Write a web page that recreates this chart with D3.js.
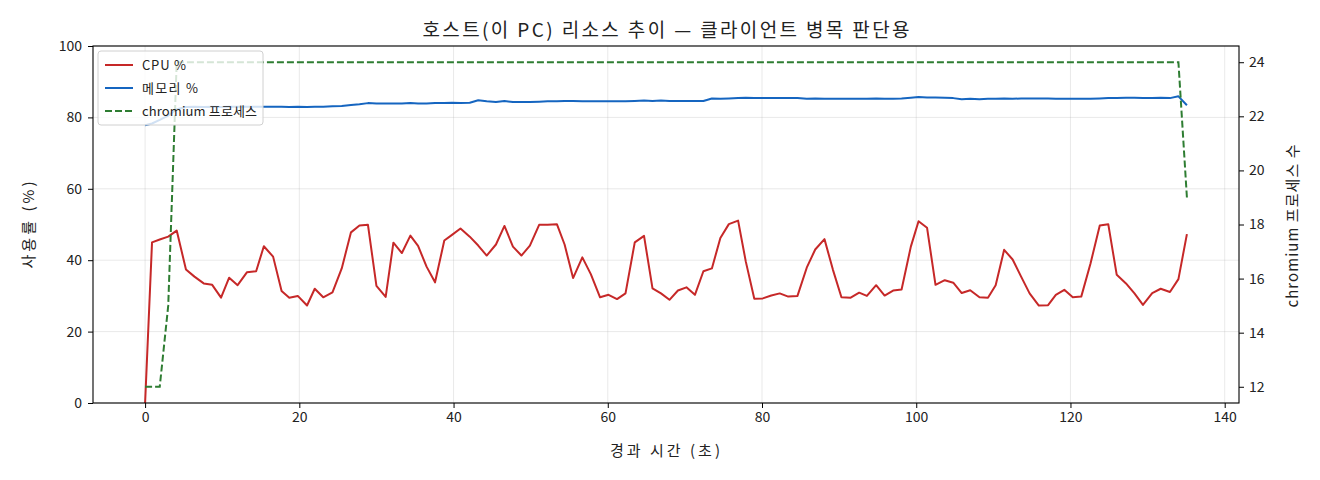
<!DOCTYPE html>
<html><head><meta charset="utf-8">
<script src="https://cdn.jsdelivr.net/npm/d3@7/dist/d3.min.js"></script>
<style>
html,body{margin:0;padding:0;background:#fff;}
svg text{font-family:"Noto Sans CJK KR","Noto Sans",sans-serif;fill:#222;}
</style></head>
<body>
<svg id="c" width="1320" height="480"></svg>
<script>
const times = [0,0.9,1.9,3.0,4.1,5.3,6.4,7.6,8.7,9.85,10.9,12.0,13.2,14.4,15.4,16.6,17.7,18.7,19.8,21.0,22.0,23.1,24.3,25.5,26.7,27.8,28.9,30.0,31.2,32.2,33.3,34.4,35.4,36.5,37.6,38.8,39.8,40.9,42.1,43.2,44.3,45.5,46.6,47.7,48.8,49.9,51.1,52.2,53.4,54.4,55.5,56.7,57.8,59.0,60.1,61.2,62.3,63.5,64.7,65.8,66.9,68.0,69.1,70.2,71.3,72.4,73.5,74.6,75.7,76.9,77.9,79.0,80.1,81.2,82.3,83.4,84.6,85.8,86.9,88.1,89.2,90.3,91.5,92.6,93.6,94.8,95.9,97.0,98.1,99.3,100.3,101.4,102.5,103.7,104.8,105.9,107.0,108.2,109.3,110.3,111.4,112.5,113.6,114.7,115.9,117.1,118.1,119.2,120.3,121.4,122.6,123.8,124.9,126.0,127.2,128.3,129.4,130.6,131.7,132.9,134.0,135.1];
const cpu = [0,45.0,45.8,46.6,48.3,37.4,35.4,33.5,33.1,29.5,35.1,33.0,36.6,36.9,43.9,41.0,31.4,29.5,30.0,27.3,32.0,29.6,31.0,37.7,47.8,49.7,49.9,32.8,29.7,44.9,42.0,46.9,44.0,38.2,33.8,45.5,47.1,48.9,46.6,44.1,41.3,44.4,49.6,43.8,41.3,44.1,49.9,49.9,50.1,44.4,35.0,40.8,36.1,29.6,30.3,29.1,30.7,45.0,46.8,32.1,30.7,28.9,31.5,32.4,30.3,36.9,37.7,46.2,50.1,51.1,39.6,29.2,29.3,30.1,30.7,29.8,30.0,37.9,43.0,45.9,37.3,29.6,29.5,30.9,30.0,33.0,30.1,31.5,31.8,43.8,50.9,49.1,33.1,34.4,33.7,30.8,31.6,29.6,29.5,33.0,42.9,40.2,35.4,30.7,27.3,27.4,30.3,31.7,29.6,29.8,39.1,49.7,50.1,35.9,33.5,30.7,27.5,30.8,32.0,31.1,34.7,47.3];
const mem = [77.8,78.3,79.3,80.5,82.3,82.9,83.0,82.9,83.0,82.9,83.0,83.0,83.0,83.0,83.0,83.0,83.0,82.9,83.0,82.9,83.0,83.0,83.1,83.2,83.5,83.7,84.0,83.9,83.9,83.9,83.9,84.0,83.9,83.9,84.0,84.0,84.1,84.0,84.1,84.8,84.5,84.3,84.6,84.3,84.3,84.3,84.4,84.5,84.5,84.6,84.6,84.5,84.5,84.5,84.5,84.5,84.5,84.6,84.7,84.6,84.7,84.6,84.6,84.6,84.6,84.6,85.3,85.2,85.3,85.4,85.5,85.4,85.4,85.4,85.4,85.4,85.4,85.2,85.3,85.2,85.2,85.2,85.2,85.2,85.2,85.3,85.2,85.2,85.3,85.5,85.7,85.6,85.6,85.5,85.4,85.1,85.2,85.1,85.2,85.2,85.3,85.2,85.3,85.3,85.3,85.3,85.2,85.2,85.2,85.2,85.2,85.3,85.4,85.4,85.5,85.5,85.4,85.4,85.5,85.4,85.9,83.4];
const procs = [12,12,12,15,24,24,24,24,24,24,24,24,24,24,24,24,24,24,24,24,24,24,24,24,24,24,24,24,24,24,24,24,24,24,24,24,24,24,24,24,24,24,24,24,24,24,24,24,24,24,24,24,24,24,24,24,24,24,24,24,24,24,24,24,24,24,24,24,24,24,24,24,24,24,24,24,24,24,24,24,24,24,24,24,24,24,24,24,24,24,24,24,24,24,24,24,24,24,24,24,24,24,24,24,24,24,24,24,24,24,24,24,24,24,24,24,24,24,24,24,24,19];
const xTicks = [0,20,40,60,80,100,120,140];
const yTicks = [0,20,40,60,80,100];
const y2Ticks = [12,14,16,18,20,22,24];
const titleText = "호스트(이 PC) 리소스 추이 — 클라이언트 병목 판단용";
const xLabel = "경과 시간 (초)";
const yLabel = "사용률 (%)";
const y2Label = "chromium 프로세스 수";
const legendLabels = ["CPU %","메모리 %","chromium 프로세스"];

const L=93,R=1239,T=46,B=403;
const svg=d3.select("#c");
const x=d3.scaleLinear().domain([-6.755,141.855]).range([L,R]);
const y=d3.scaleLinear().domain([0,100]).range([B,T]);
const y2=d3.scaleLinear().domain([11.4,24.6]).range([B,T]);
const data=times.map((t,i)=>({t,c:cpu[i],m:mem[i],p:procs[i]}));

const g=svg.append("g");
g.selectAll(".gx").data(xTicks).join("line").attr("x1",d=>x(d)).attr("x2",d=>x(d)).attr("y1",T).attr("y2",B).attr("stroke","#b0b0b0").attr("stroke-opacity",0.35).attr("stroke-width",0.8);
g.selectAll(".gy").data(yTicks).join("line").attr("x1",L).attr("x2",R).attr("y1",d=>y(d)).attr("y2",d=>y(d)).attr("stroke","#b0b0b0").attr("stroke-opacity",0.35).attr("stroke-width",0.8);

svg.append("defs").append("clipPath").attr("id","pc").append("rect").attr("x",L).attr("y",T).attr("width",R-L).attr("height",B-T);
const plot=svg.append("g").attr("clip-path","url(#pc)");
plot.append("path").datum(data).attr("fill","none").attr("stroke","#c62828").attr("stroke-width",2).attr("stroke-linejoin","round")
  .attr("d",d3.line().x(d=>x(d.t)).y(d=>y(d.c)));
plot.append("path").datum(data).attr("fill","none").attr("stroke","#1565c0").attr("stroke-width",2).attr("stroke-linejoin","round")
  .attr("d",d3.line().x(d=>x(d.t)).y(d=>y(d.m)));

const lg=svg.append("g");
lg.append("rect").attr("x",98).attr("y",51).attr("width",165).attr("height",74).attr("rx",3).attr("fill","#fff").attr("fill-opacity",0.8).attr("stroke","#d0d0d0").attr("stroke-width",1);
const legColors=["#c62828","#1565c0","#2e7d32"];
const legY=[65,88,111];
const legW=[44,56,115];
legendLabels.forEach((lab,i)=>{
  lg.append("line").attr("x1",105).attr("x2",133).attr("y1",legY[i]).attr("y2",legY[i]).attr("stroke",legColors[i]).attr("stroke-width",2).attr("stroke-dasharray",i===2?"7,3":null);
  lg.append("text").attr("x",142).attr("y",legY[i]).attr("dy","0.35em").attr("font-size",13).attr("textLength",legW[i]).attr("lengthAdjust","spacing").text(lab);
});

plot.append("path").datum(data).attr("fill","none").attr("stroke","#2e7d32").attr("stroke-width",2).attr("stroke-dasharray","7,3")
  .attr("d",d3.line().x(d=>x(d.t)).y(d=>y2(d.p)));

const fs=14;
const ax=svg.append("g").attr("transform",`translate(0,${B})`).call(d3.axisBottom(x).tickValues(xTicks).tickSize(5).tickPadding(4).tickFormat(d3.format("d")));
const ay=svg.append("g").attr("transform",`translate(${L},0)`).call(d3.axisLeft(y).tickValues(yTicks).tickSize(5).tickPadding(6).tickFormat(d3.format("d")));
const ay2=svg.append("g").attr("transform",`translate(${R},0)`).call(d3.axisRight(y2).tickValues(y2Ticks).tickSize(5).tickPadding(5).tickFormat(d3.format("d")));
[ax,ay,ay2].forEach(a=>{a.select(".domain").remove();a.selectAll("line").attr("stroke","#000").attr("stroke-width",1);a.selectAll("text").attr("font-size",fs).attr("font-family",null).attr("fill","#222");});
svg.append("rect").attr("x",L).attr("y",T).attr("width",R-L).attr("height",B-T).attr("fill","none").attr("stroke","#000").attr("stroke-width",1.1);

svg.append("text").attr("x",666).attr("y",37).attr("text-anchor","middle").attr("font-size",19).attr("textLength",487).attr("lengthAdjust","spacing").text(titleText);
svg.append("text").attr("x",665).attr("y",456).attr("text-anchor","middle").attr("font-size",15).attr("textLength",110).attr("lengthAdjust","spacing").text(xLabel);
svg.append("text").attr("transform",`translate(34,225) rotate(-90)`).attr("text-anchor","middle").attr("font-size",15).attr("textLength",87).attr("lengthAdjust","spacing").text(yLabel);
svg.append("text").attr("transform",`translate(1298,226) rotate(-90)`).attr("text-anchor","middle").attr("font-size",15).attr("textLength",163).attr("lengthAdjust","spacing").text(y2Label);
</script>
</body></html>
